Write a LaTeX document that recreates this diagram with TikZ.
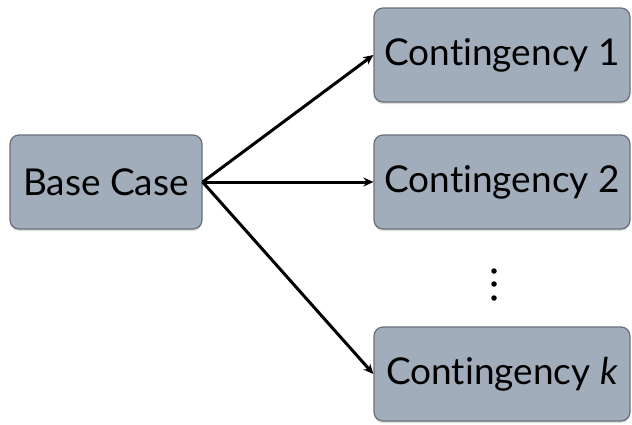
\documentclass[tikz,border=0pt]{standalone}
\usepackage{fontspec}
\setmainfont{Lato}[Ligatures={NoCommon, NoRequired, NoContextual}]
\usepackage{tikz}
\usetikzlibrary{arrows.meta}
\usetikzlibrary{shadows}

\definecolor{boxfill}{RGB}{161,173,187}
\definecolor{boxline}{RGB}{105,112,122}

\begin{document}
\begin{tikzpicture}[x=1pt, y=-1pt,
    box/.style={rectangle, rounded corners=9pt, draw=boxline, line width=1.2pt, fill=boxfill,
        drop shadow={opacity=0.25, shadow xshift=0pt, shadow yshift=-2pt},
        minimum height=94pt, inner sep=0pt, font=\fontsize{37}{44}\selectfont},
    link/.style={-{Stealth[length=10pt, width=9pt]}, line width=3pt},
    dot/.style={circle, fill=black, inner sep=0pt, minimum size=5.5pt}]
            \useasboundingbox (0, 0) rectangle (632, 424);
            \node[box, minimum width=192pt] (base) at (106, 182) {Base Case};
            \foreach \y/\n/\t in {55/c1/1, 182/c2/2, 374/ck/\textit{k}}
            {
                \node[box, minimum width=256pt] (\n) at (502, \y) {Contingency \t};
                \draw[link] (base.east) -- (\n.west);
            }
            % vertical dots between contingency 2 and k
            \foreach \y[count=\i] in {271, 284, 298}
                \node[dot] (dot\i) at (494, \y) {};
        \end{tikzpicture}
\end{document}
